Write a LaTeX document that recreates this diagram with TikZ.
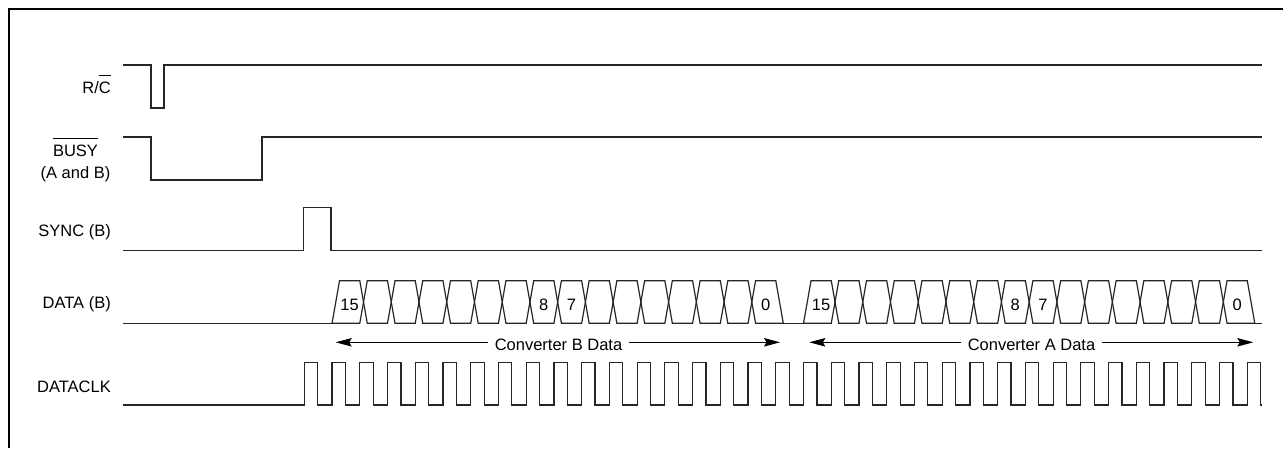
\documentclass[tikz,border=0pt]{standalone}
\usepackage{fontspec}
\setmainfont{Liberation Sans}
\usetikzlibrary{arrows.meta}
\newcommand\myovl[1]{\setbox0=\hbox{#1}\rlap{\raisebox{1.08em}{\rule{\wd0}{0.8pt}}}\box0}
\begin{document}
\begin{tikzpicture}[x=1pt,y=-1pt, line join=miter,
  sig/.style={line width=1.2pt, draw=black!85},
  lbl/.style={font=\fontsize{16.5}{19}\selectfont, inner sep=0pt},
  arr/.style={line width=1.1pt, -{Stealth[length=16pt,width=8.5pt,inset=2.5pt]}}]
\useasboundingbox (0,0) rectangle (1283,448);
\fill[white] (0,0) rectangle (1283,448);
\draw[line width=2.2pt] (9,448) -- (9,9) -- (1283,9);
% constants
\def\tz{304.3}\def\per{27.735}\def\w{7.5}
\def\dtop{280.7}\def\dbot{323.3}\def\dmid{302}
% labels
\node[lbl, anchor=base east] (lrc) at (111,93.3) {R/\myovl{C}};
\node[lbl, anchor=base] (lbusy) at (75.5,156.7) {\myovl{BUSY}};
\node[lbl, anchor=base] (lab) at (75.5,178.3) {(A and B)};
\node[lbl, anchor=base east] (lsync) at (111,236.7) {SYNC (B)};
\node[lbl, anchor=base east] (ldata) at (111,308.3) {DATA (B)};
\node[lbl, anchor=base east] (lclk) at (111,392.3) {DATACLK};
% R/C
\draw[sig] (123,65) -- (151,65) -- (151,108) -- (164,108) -- (164,65) -- (1262,65);
% BUSY
\draw[sig] (123,137) -- (151,137) -- (151,180) -- (262,180) -- (262,137) -- (1262,137);
% SYNC
\draw[sig] (123,250.7) -- (303.5,250.7) -- (303.5,207.7) -- (331,207.7) -- (331,250.7) -- (1262,250.7);
% DATACLK
\draw[sig] (123,405) foreach \k in {0,...,34}{ -- ({\tz+\k*\per},405) -- ++(0,-42.7) -- ++(13.4,0) -- ++(0,42.7) } -- (1262,405);
% DATA baseline pieces
\draw[sig] (123,\dbot) -- ({\tz+1*\per},\dbot);
\draw[sig] ({\tz+17*\per+\w},\dbot) -- ({\tz+18*\per},\dbot);
\draw[sig] ({\tz+34*\per+\w},\dbot) -- (1261.7,\dbot);
% first cells
\foreach \j in {1,18}{
  \pgfmathsetmacro\a{\tz+\j*\per}\pgfmathsetmacro\b{\a+\per}
  \draw[sig] (\a,\dbot) -- ({\a+\w},\dtop) -- (\b,\dtop) -- ({\b+\w/2},\dmid) -- (\b,\dbot) -- cycle;
}
% last cells
\foreach \j in {16,33}{
  \pgfmathsetmacro\a{\tz+\j*\per}\pgfmathsetmacro\b{\a+\per}
  \draw[sig] ({\a+\w/2},\dmid) -- ({\a+\w},\dtop) -- (\b,\dtop) -- ({\b+\w},\dbot) -- ({\a+\w},\dbot) -- cycle;
}
% middle cells
\foreach \j in {2,...,15}{
  \pgfmathsetmacro\a{\tz+\j*\per}\pgfmathsetmacro\b{\a+\per}
  \draw[sig] ({\a+\w/2},\dmid) -- ({\a+\w},\dtop) -- (\b,\dtop) -- ({\b+\w/2},\dmid) -- (\b,\dbot) -- ({\a+\w},\dbot) -- cycle;
}
\foreach \j in {19,...,32}{
  \pgfmathsetmacro\a{\tz+\j*\per}\pgfmathsetmacro\b{\a+\per}
  \draw[sig] ({\a+\w/2},\dmid) -- ({\a+\w},\dtop) -- (\b,\dtop) -- ({\b+\w/2},\dmid) -- (\b,\dbot) -- ({\a+\w},\dbot) -- cycle;
}
% bit labels
\foreach \j/\t/\n in {1/15/b15, 8/8/b8, 9/7/b7, 16/0/b0, 18/15/a15, 25/8/a8, 26/7/a7, 33/0/a0}{
  \node[lbl, anchor=base] (\n) at ({\tz+(\j+0.5)*\per+\w/2},310) {\t};
}
% arrows
\coordinate (cbl) at (335.7,342.3);
\coordinate (cbr) at (780,342.3);
\node[lbl, anchor=base, inner xsep=6.5pt] (cb) at (558.5,350) {Converter B Data};
\draw[arr] (cb.west |- cbl) -- (cbl);
\draw[arr] (cb.east |- cbr) -- (cbr);
\coordinate (cal) at (809.3,342.3);
\coordinate (car) at (1253.3,342.3);
\node[lbl, anchor=base, inner xsep=6.5pt] (ca) at (1031.5,350) {Converter A Data};
\draw[arr] (ca.west |- cal) -- (cal);
\draw[arr] (ca.east |- car) -- (car);
\end{tikzpicture}
\end{document}
